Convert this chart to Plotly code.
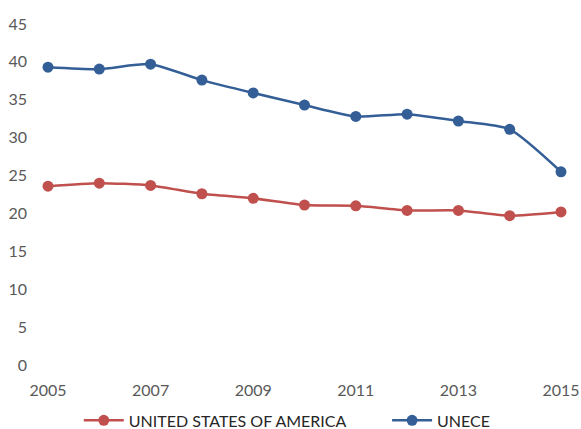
import plotly.graph_objects as go

years = [2005, 2006, 2007, 2008, 2009, 2010, 2011, 2012, 2013, 2014, 2015]
usa = [23.6, 24.0, 23.7, 22.6, 22.0, 21.1, 21.0, 20.4, 20.4, 19.7, 20.2]
unece = [39.3, 39.05, 39.7, 37.6, 35.9, 34.3, 32.8, 33.1, 32.2, 31.1, 25.5]
x_ticks = [2005, 2007, 2009, 2011, 2013, 2015]
y_ticks = [0, 5, 10, 15, 20, 25, 30, 35, 40, 45]

RED = "#C0504D"
BLUE = "#335E96"

fig = go.Figure()
fig.add_trace(go.Scatter(x=years, y=usa, name="UNITED STATES OF AMERICA", legend="legend", showlegend=True,
                         mode="lines+markers", line=dict(color=RED, width=2.5, shape="spline", smoothing=0.6),
                         marker=dict(size=11, color=RED), cliponaxis=False))
fig.add_trace(go.Scatter(x=years, y=unece, name="UNECE", legend="legend2", showlegend=True,
                         mode="lines+markers", line=dict(color=BLUE, width=2.5, shape="spline", smoothing=0.6),
                         marker=dict(size=11, color=BLUE), cliponaxis=False))

leg_common = dict(orientation="h", xanchor="left", yref="container", y=0.02, yanchor="middle",
                  font=dict(size=16, color="#262626"), itemwidth=40, bgcolor="rgba(0,0,0,0)", visible=True)

fig.update_layout(
    width=581, height=429,
    showlegend=True,
    margin=dict(l=48, r=20, t=24, b=64, autoexpand=False),
    plot_bgcolor="white", paper_bgcolor="white",
    font=dict(family="Lato, Liberation Sans, sans-serif", size=16, color="#595959"),
    xaxis=dict(range=[2005, 2015], tickvals=x_ticks, showgrid=False, zeroline=False, automargin=False,
               showline=False, ticks="", ticklabelstandoff=14, tickfont=dict(size=16, color="#595959")),
    yaxis=dict(range=[0, 45], tickvals=y_ticks, showgrid=False, zeroline=False, automargin=False,
               showline=False, ticks="", ticklabelstandoff=20, tickfont=dict(size=16, color="#595959")),
    legend=dict(x=0.060, **leg_common),
    legend2=dict(x=0.661, **leg_common),
)

fig.write_html("out.html", config={"displayModeBar": False},
               post_script="document.body.style.margin='0px';document.body.style.overflow='hidden';")
